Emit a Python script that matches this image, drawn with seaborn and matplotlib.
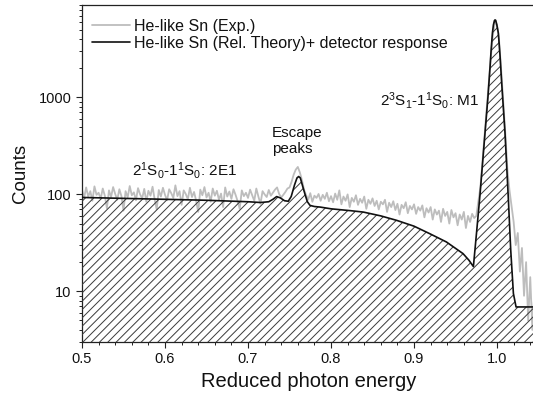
import numpy as np
import pandas as pd
import matplotlib
matplotlib.use("Agg")
import matplotlib.pyplot as plt
from matplotlib.ticker import MultipleLocator, FixedLocator, LogLocator, NullFormatter, FuncFormatter
import seaborn as sns

# ---------------- data ----------------
exp_start, exp_stop = 0.5, 1.045
exp_counts = [
    # 0.500 - 0.5975
    112, 92, 118, 95, 108, 86, 121, 99, 104, 90, 115, 97, 72, 110, 94, 119, 101, 88, 113, 96,
    68, 108, 93, 122, 98, 105, 87, 116, 100, 91, 114, 84, 109, 97, 120, 89, 70, 111, 95, 117,
    # 0.600 - 0.6975
    99, 87, 113, 103, 92, 124, 96, 108, 78, 110, 101, 89, 117, 94, 106, 86, 66, 112, 98, 119,
    93, 104, 84, 115, 97, 109, 88, 102, 74, 118, 95, 107, 90, 113, 99, 85, 71, 110, 96, 104,
    # 0.700 - 0.7475
    92, 112, 98, 86, 115, 95, 80, 108, 100, 94, 111, 97, 104, 112, 118, 101, 93, 99, 106, 115,
    # 0.750 - 0.7975
    118, 135, 160, 180, 192, 168, 140, 112, 98, 88, 103, 84, 97, 92, 101, 86, 99, 90, 104, 85,
    # 0.800 - 0.8475
    96, 83, 102, 88, 110, 79, 95, 86, 100, 74, 92, 84, 98, 78, 90, 82, 95, 71, 88, 80,
    # 0.850 - 0.8975
    91, 76, 86, 70, 84, 79, 88, 66, 82, 74, 85, 69, 80, 62, 78, 72, 83, 64, 76, 70,
    # 0.900 - 0.9475
    79, 63, 74, 68, 77, 58, 72, 65, 74, 55, 70, 62, 68, 52, 71, 60, 66, 50, 69, 58,
    # 0.950 - 0.9725
    64, 48, 62, 55, 66, 45, 60, 52, 63, 57,
    # 0.975 - 1.045
    60, 85, 120, 220, 400, 760, 1400, 2600, 4400, 6000, 5600, 3800, 1900, 900, 420, 180, 110,
    75, 52, 30, 40, 16, 28, 9, 20, 5, 14, 4, 10,
]

theory_x = [0.500, 0.550, 0.600, 0.650, 0.700, 0.715, 0.725, 0.730, 0.7345, 0.739, 0.744,
            0.7485, 0.752, 0.756, 0.759, 0.761, 0.763, 0.766, 0.7687, 0.7715, 0.7747, 0.780,
            0.787, 0.800, 0.823, 0.839, 0.860, 0.879, 0.900, 0.919, 0.939, 0.959, 0.966,
            0.9715, 0.9755, 0.9795, 0.9855, 0.9890, 0.9916, 0.9930, 0.9944, 0.9956, 0.9968,
            0.9976, 0.9984, 0.9996, 1.0016, 1.0036, 1.0056, 1.0096, 1.0137, 1.0165, 1.0197,
            1.0229, 1.045]
theory_y = [93, 91, 89, 87, 84, 82.5, 84, 89, 95, 92, 86,
            85, 95, 125, 148, 153, 148, 120, 100, 84, 77, 75,
            74, 71, 68, 65.7, 60, 54, 47, 39.3, 32.3, 24.5, 21,
            18, 42, 100, 430, 1000, 2087, 3200, 4610, 5600, 6200,
            6320, 6250, 5700, 4610, 2700, 1407, 430, 87, 26.5, 9.5,
            6.9, 6.9]

x_ticks = [0.5, 0.6, 0.7, 0.8, 0.9, 1.0]
y_ticks = [10, 100, 1000]
legend_labels = ["He-like Sn (Exp.)", "He-like Sn (Rel. Theory)+ detector response"]
x_label = "Reduced photon energy"
y_label = "Counts"

# ---------------- style ----------------
sns.set_theme(style="ticks")
plt.rcParams['font.family'] = ['Liberation Sans', 'DejaVu Sans']
plt.rcParams['mathtext.default'] = 'regular'
plt.rcParams['hatch.linewidth'] = 0.7
plt.rcParams['axes.linewidth'] = 0.9

W, H = 533, 394
fig = plt.figure(figsize=(W / 100, H / 100), dpi=100)
ax_l, ax_r, ax_t, ax_b = 82, 534.4, 5, 342
ax = fig.add_axes([ax_l / W, 1 - ax_b / H, (ax_r - ax_l) / W, (ax_b - ax_t) / H])

exp_x = np.linspace(exp_start, exp_stop, len(exp_counts))
df_exp = pd.DataFrame({"energy": exp_x, "counts": exp_counts})
df_th = pd.DataFrame({"energy": theory_x, "counts": theory_y})

sns.lineplot(data=df_exp, x="energy", y="counts", ax=ax, color="#bdbdbd", lw=1.3,
             sort=False, estimator=None, label=legend_labels[0], zorder=2)
ax.fill_between(df_th["energy"], 1, df_th["counts"], facecolor="none",
                edgecolor="#3a3a3a", hatch="////", linewidth=0, zorder=3)
sns.lineplot(data=df_th, x="energy", y="counts", ax=ax, color="#111111", lw=1.2,
             sort=False, estimator=None, label=legend_labels[1], zorder=4)

ax.set_yscale("log")
ax.set_xlim(0.5, 1.045)
ax.set_ylim(3, 9000)

ax.xaxis.set_major_locator(FixedLocator(x_ticks))
ax.xaxis.set_major_formatter(FuncFormatter(lambda v, p: f"{v:.1f}"))
ax.xaxis.set_minor_locator(MultipleLocator(0.02))
ax.yaxis.set_major_locator(FixedLocator(y_ticks))
ax.yaxis.set_major_formatter(FuncFormatter(lambda v, p: f"{int(round(v))}"))
ax.yaxis.set_minor_locator(LogLocator(base=10, subs=np.arange(2, 10)))
ax.yaxis.set_minor_formatter(NullFormatter())

ax.tick_params(axis="both", which="major", direction="out", length=4.5, width=0.8,
               labelsize=10.5, color="#222222", labelcolor="#111111", pad=3)
ax.tick_params(axis="both", which="minor", direction="out", length=2.5, width=0.7,
               color="#222222")
ax.tick_params(top=False, right=False)

for s in ax.spines.values():
    s.set_color("#222222")

ax.set_xlabel(x_label, fontsize=14.5, labelpad=4, color="#111111")
ax.set_ylabel(y_label, fontsize=13.5, labelpad=7, color="#111111")


def afrac(px, py):
    return ((px - ax_l) / (ax_r - ax_l), (ax_b - py) / (ax_b - ax_t))


ax.text(*afrac(132, 170), r"2$^1$S$_0$-1$^1$S$_0$: 2E1", transform=ax.transAxes,
        fontsize=11, ha="left", va="center", color="#111111")
ax.text(*afrac(272, 141), "Escape\npeaks", transform=ax.transAxes,
        fontsize=11, ha="left", va="center", color="#111111", linespacing=1.1)
ax.text(*afrac(380, 100), r"2$^3$S$_1$-1$^1$S$_0$: M1", transform=ax.transAxes,
        fontsize=11, ha="left", va="center", color="#111111")

leg = ax.legend(loc="upper left", bbox_to_anchor=afrac(92, 19), frameon=False,
                fontsize=11.5, handlelength=2.4, handletextpad=0.2, labelspacing=0.1,
                borderaxespad=0, borderpad=0)
for t in leg.get_texts():
    t.set_color("#111111")

fig.savefig("out.png", dpi=100)
